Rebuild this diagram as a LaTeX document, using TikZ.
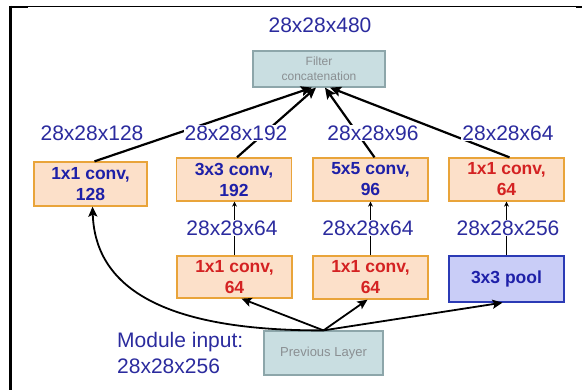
\documentclass[tikz,border=0pt]{standalone}
\usepackage{fontspec}
\setmainfont{Liberation Sans}
\usetikzlibrary{arrows.meta}
\definecolor{lblue}{HTML}{2B2B9E}
\definecolor{tblue}{HTML}{1E20A8}
\definecolor{tred}{HTML}{D42222}
\definecolor{ofill}{HTML}{FCE0C9}
\definecolor{oline}{HTML}{E9A43A}
\definecolor{pfill}{HTML}{C9CDF7}
\definecolor{pline}{HTML}{2B3AB5}
\definecolor{gfill}{HTML}{C9DEE1}
\definecolor{gline}{HTML}{8DA6AA}
\definecolor{gtext}{HTML}{8A8F92}
\tikzset{
  dimlabel/.style={font=\fontsize{21}{25}\selectfont, text=lblue, fill=white, inner sep=1pt},
  convbox/.style={draw=oline, fill=ofill, line width=1.3pt, minimum width=115pt, minimum height=43pt,
     align=center, font=\bfseries\fontsize{17.5}{21}\selectfont, inner sep=1pt},
  poolbox/.style={draw=pline, fill=pfill, line width=1.3pt, minimum width=115pt, minimum height=46pt,
     align=center, font=\bfseries\fontsize{17.5}{21}\selectfont, text=tblue},
  greybox/.style={draw=gline, fill=gfill, line width=1.2pt, align=center, text=gtext, inner sep=1pt},
  bigarrow/.style={line width=2.2pt, -{Stealth[length=11pt,width=10pt,inset=2pt]}},
  midarrow/.style={line width=1.8pt, -{Stealth[length=10pt,width=9pt,inset=2pt]}},
  smallarrow/.style={line width=1.2pt, -{Stealth[length=5pt,width=5pt]}}
}
\begin{document}
\begin{tikzpicture}[x=1pt,y=-1pt]
\useasboundingbox (0,0) rectangle (582,390);
% frame
\draw[line width=1.2pt] (9,6.8) -- (582,6.8);
\draw[line width=2.4pt] (9,7) -- (28,7);
\draw[line width=2.4pt] (576,7) -- (582,7);
\draw[line width=3pt] (10.3,5.6) -- (10.3,390);
% boxes
\node[greybox, minimum width=132pt, minimum height=36pt, font=\fontsize{12}{15}\selectfont] (cat) at (319,69) {Filter\\concatenation};
\node[convbox, minimum width=113pt, minimum height=44pt, text=tblue] (b1) at (90.5,184) {1x1 conv,\\128};
\node[convbox, text=tblue] (b2) at (234,179.5) {3x3 conv,\\192};
\node[convbox, text=tblue] (b3) at (370.5,179.5) {5x5 conv,\\96};
\node[convbox, text=tred] (b4) at (506.5,179.5) {1x1 conv,\\64};
\node[convbox, minimum height=42pt, text=tred] (b5) at (234.5,277) {1x1 conv,\\64};
\node[convbox, text=tred] (b6) at (370.5,277.5) {1x1 conv,\\64};
\node[poolbox] (b7) at (506.5,279) {3x3 pool};
\node[greybox, minimum width=119pt, minimum height=44pt, font=\fontsize{13}{15}\selectfont] (prev) at (323.5,353) {Previous Layer};
% connectors
\draw[bigarrow] ([xshift=4pt]b1.north) -- ([xshift=-7pt]cat.south);
\draw[bigarrow] ([xshift=3pt]b2.north) -- ([xshift=-3pt]cat.south);
\draw[bigarrow] ([xshift=4pt]b3.north) -- ([xshift=6pt]cat.south);
\draw[bigarrow] ([xshift=3pt]b4.north) -- ([xshift=11pt]cat.south);
\draw[smallarrow] (b5.north) -- (b5.north |- b2.south);
\draw[smallarrow] (b6.north) -- (b6.north |- b3.south);
\draw[smallarrow] (b7.north) -- (b7.north |- b4.south);
\draw[midarrow] (prev.north) .. controls (150,331) and (95,280) .. ([xshift=2pt]b1.south);
\draw[midarrow] (prev.north) -- ([xshift=7pt]b5.south);
\draw[midarrow] (prev.north) -- ([xshift=-3pt]b6.south);
\draw[midarrow] (prev.north) -- ([xshift=-4pt]b7.south);
% labels
\node[dimlabel] (lout) at (320,25) {28x28x480};
\node[dimlabel] (l1) at (92,133) {28x28x128};
\node[dimlabel] (l2) at (236,133) {28x28x192};
\node[dimlabel] (l3) at (373,133) {28x28x96};
\node[dimlabel] (l4) at (508,133) {28x28x64};
\node[dimlabel] (m2) at (232,228) {28x28x64};
\node[dimlabel] (m3) at (368,228) {28x28x64};
\node[dimlabel] (m4) at (508,228) {28x28x256};
\node[dimlabel, fill=none, align=left, anchor=west, font=\fontsize{21}{26}\selectfont] (min) at (116,353) {Module input:\\28x28x256};
\end{tikzpicture}
\end{document}
